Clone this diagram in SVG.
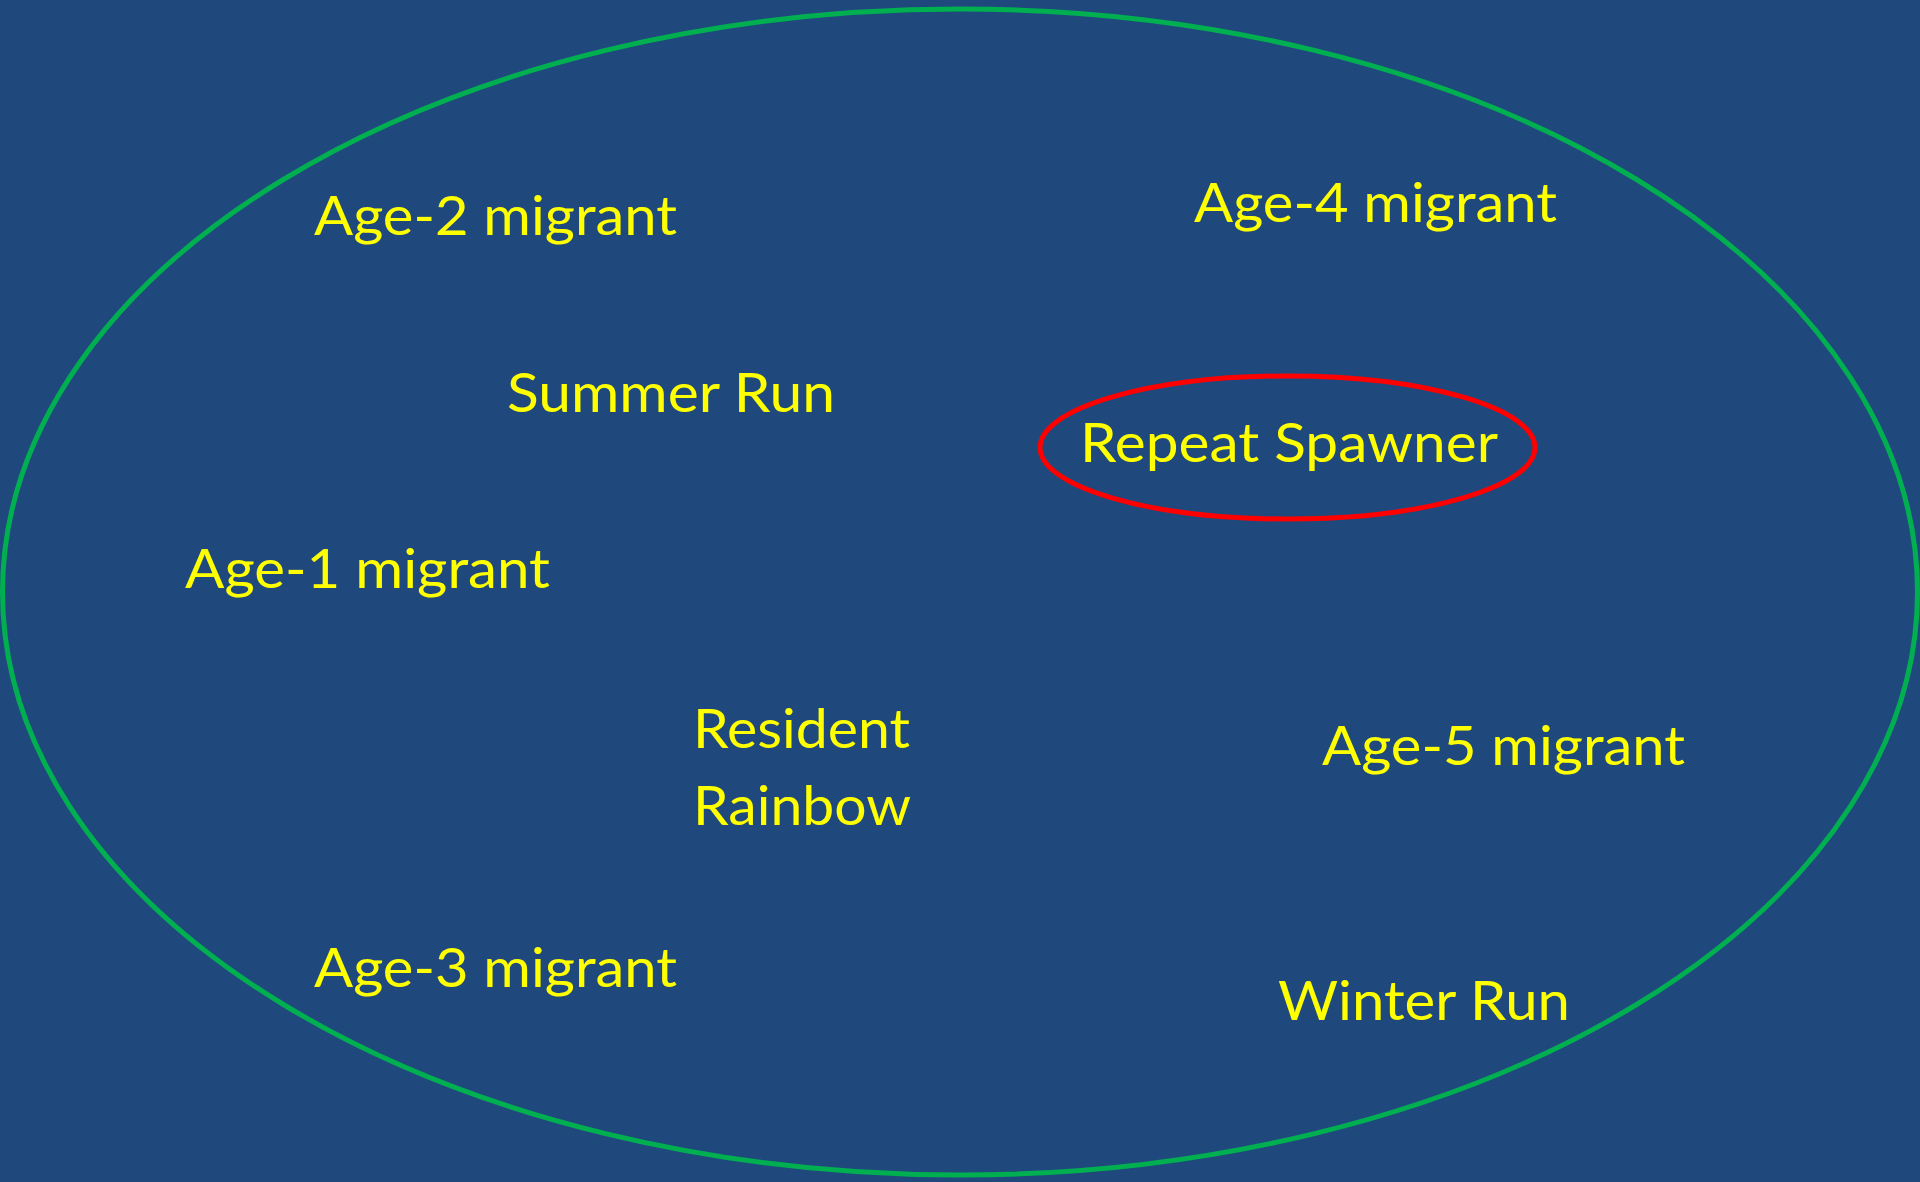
<svg xmlns="http://www.w3.org/2000/svg" width="1920" height="1182" viewBox="0 0 1920 1182">
<style>
.bg{fill:#1F497D}
.outer{fill:none;stroke:#00B050;stroke-width:5}
.hl{fill:none;stroke:#FF0000;stroke-width:5}
.t{font-family:Lato,"Open Sans","Liberation Sans",sans-serif;font-size:55px;fill:#FFFF00}
</style>
<rect class="bg" x="0" y="0" width="1920" height="1182"/>
<g id="population">
<ellipse class="outer" cx="960" cy="592" rx="957.5" ry="583"/>
</g>
<g id="connectors"></g>
<g id="age2"><text class="t" x="314" y="235" textLength="363" lengthAdjust="spacingAndGlyphs">Age-2 migrant</text></g>
<g id="age4"><text class="t" x="1194" y="222" textLength="363" lengthAdjust="spacingAndGlyphs">Age-4 migrant</text></g>
<g id="summer"><text class="t" x="507" y="412" textLength="328" lengthAdjust="spacingAndGlyphs">Summer Run</text></g>
<g id="repeat">
<ellipse class="hl" cx="1287.5" cy="447.5" rx="247.5" ry="71.5"/>
<text class="t" x="1080" y="462" textLength="418" lengthAdjust="spacingAndGlyphs">Repeat Spawner</text>
</g>
<g id="age1"><text class="t" x="185" y="588" textLength="365" lengthAdjust="spacingAndGlyphs">Age-1 migrant</text></g>
<g id="resident">
<text class="t" x="693" y="748" textLength="217" lengthAdjust="spacingAndGlyphs">Resident</text>
<text class="t" x="693" y="825" textLength="218" lengthAdjust="spacingAndGlyphs">Rainbow</text>
</g>
<g id="age5"><text class="t" x="1322" y="765" textLength="363" lengthAdjust="spacingAndGlyphs">Age-5 migrant</text></g>
<g id="age3"><text class="t" x="314" y="987" textLength="363" lengthAdjust="spacingAndGlyphs">Age-3 migrant</text></g>
<g id="winter"><text class="t" x="1278" y="1020" textLength="292" lengthAdjust="spacingAndGlyphs">Winter Run</text></g>
</svg>
